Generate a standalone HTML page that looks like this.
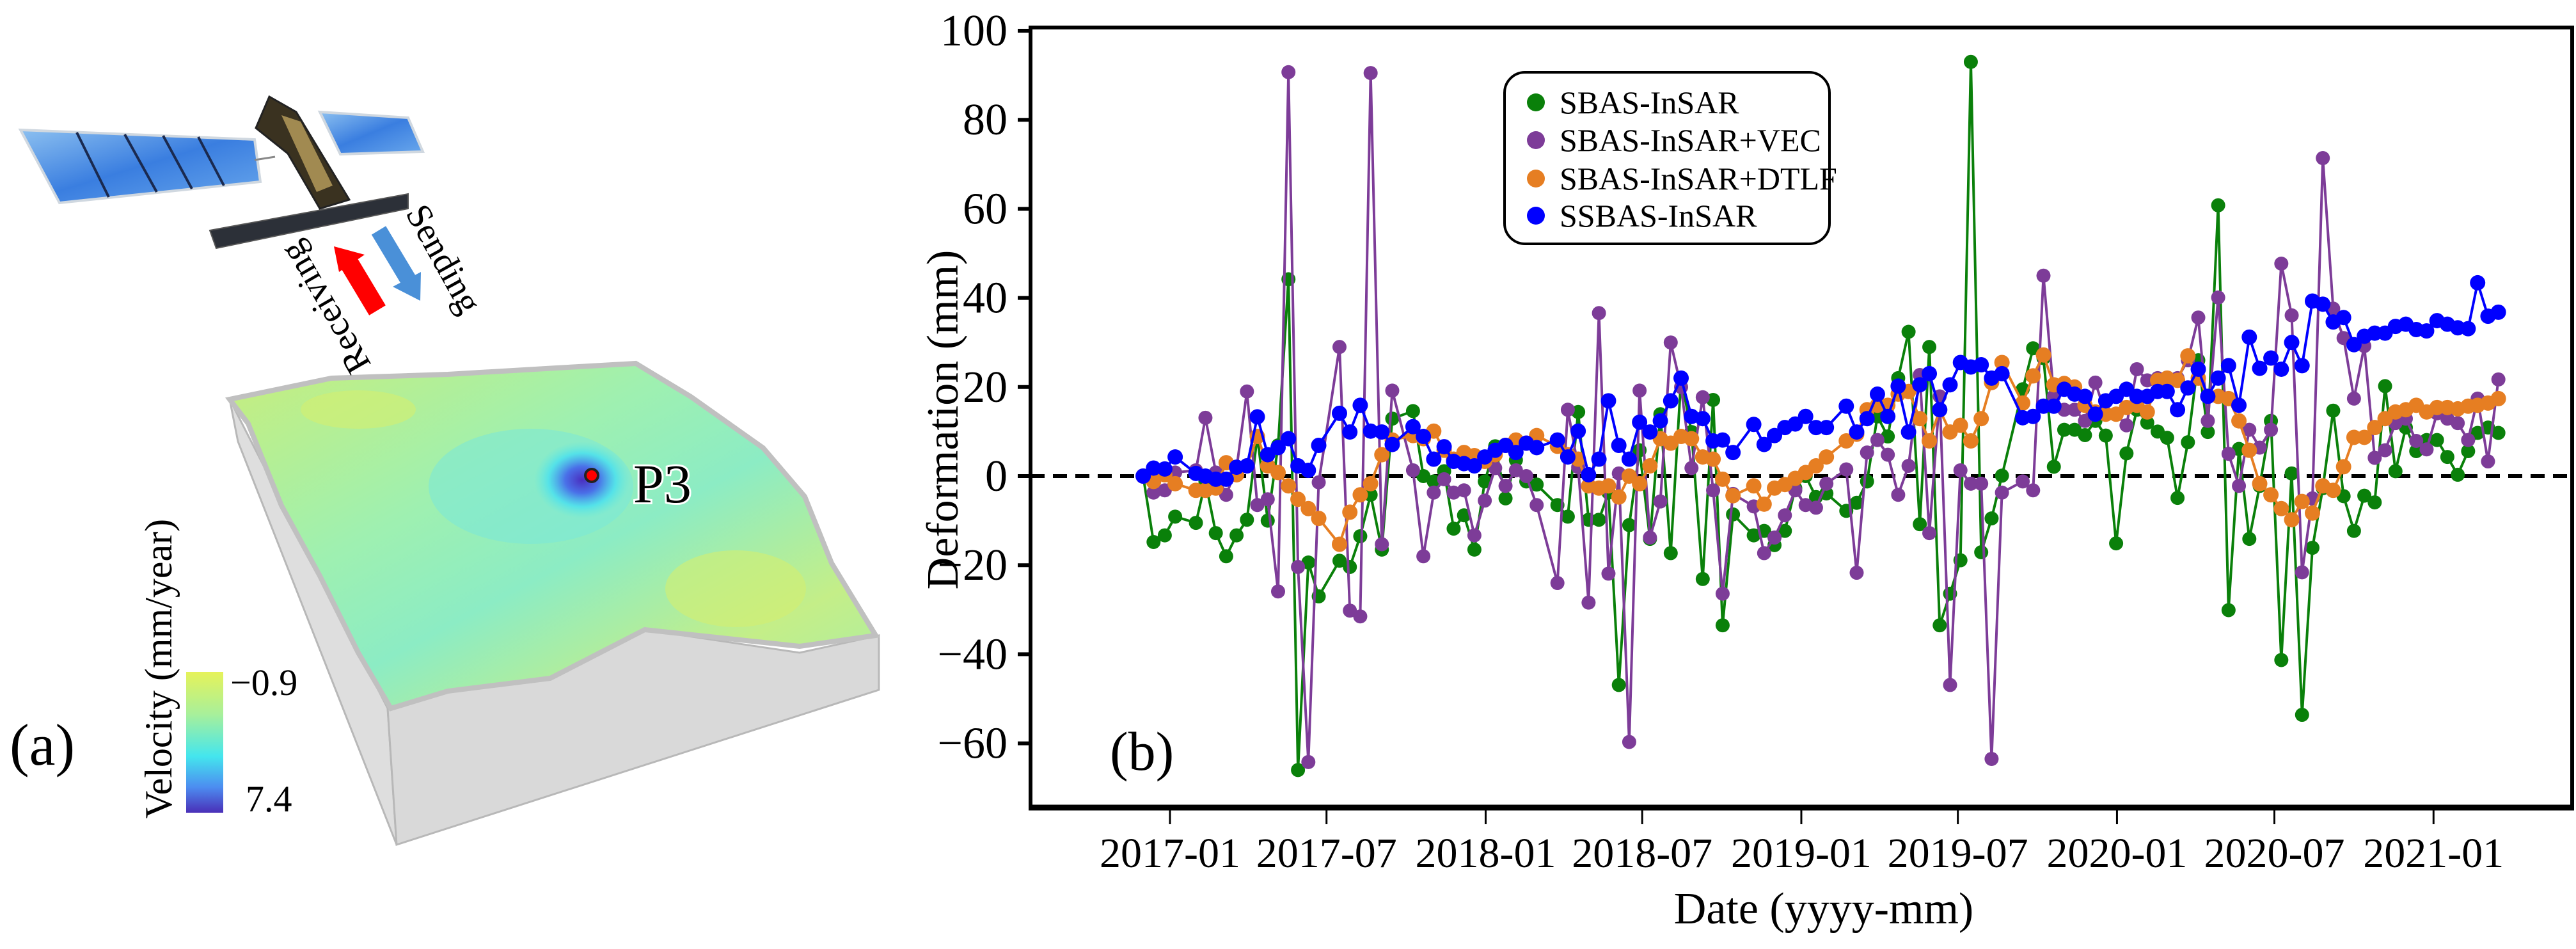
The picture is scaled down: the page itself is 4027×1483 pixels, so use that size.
<!DOCTYPE html>
<html>
<head>
<meta charset="utf-8">
<style>
  html, body { margin:0; padding:0; background:#ffffff; }
  svg { display:block; }
  text { font-family: "Liberation Serif", "DejaVu Serif", serif; }
</style>
</head>
<body>
<svg id="fig" width="4027" height="1483" viewBox="0 0 4027 1483" xmlns="http://www.w3.org/2000/svg">
  <defs>
    <linearGradient id="cbar" x1="0" y1="0" x2="0" y2="1">
      <stop offset="0" stop-color="#e6f25a"/>
      <stop offset="0.3" stop-color="#a8f09a"/>
      <stop offset="0.6" stop-color="#44e6ee"/>
      <stop offset="0.82" stop-color="#4c8cf0"/>
      <stop offset="1" stop-color="#4a2fb8"/>
    </linearGradient>
    <linearGradient id="surf" x1="0" y1="0" x2="1" y2="1">
      <stop offset="0" stop-color="#c8ee7c"/>
      <stop offset="0.35" stop-color="#9ff0b0"/>
      <stop offset="0.55" stop-color="#8cecc4"/>
      <stop offset="0.8" stop-color="#c4ee88"/>
      <stop offset="1" stop-color="#a8eea8"/>
    </linearGradient>
    <radialGradient id="spot" cx="0.5" cy="0.5" r="0.5">
      <stop offset="0" stop-color="#4a2fc0"/>
      <stop offset="0.35" stop-color="#4a70e8"/>
      <stop offset="0.7" stop-color="#48e0f0" stop-opacity="0.8"/>
      <stop offset="1" stop-color="#60e8e0" stop-opacity="0"/>
    </radialGradient>
    <linearGradient id="panel" x1="0" y1="0" x2="1" y2="1">
      <stop offset="0" stop-color="#8cc0f0"/>
      <stop offset="0.5" stop-color="#3a7ee0"/>
      <stop offset="1" stop-color="#6aa8ec"/>
    </linearGradient>
  </defs>

  <!-- ===== Panel (a) ===== -->
  <g>
    <!-- box left side -->
    <polygon points="359,624 372,690 620,1320 606,1107" fill="#dedede" stroke="#b8b8b8" stroke-width="3"/>
    <!-- box front face -->
    <polygon points="606,1107 620,1320 1374,1078 1374,993 1250,1020 1008,984 860,1060 700,1080" fill="#d9d9d9" stroke="#b8b8b8" stroke-width="3"/>
    <!-- surface -->
    <polygon points="359,624 518,591 700,585 870,575 994,568 1080,620 1193,700 1258,776 1300,880 1369,993 1250,1010 1008,984 860,1060 700,1080 611,1107 560,1020 500,900 440,790 388,662" fill="url(#surf)" stroke="#c0c0c0" stroke-width="8"/>
    <ellipse cx="830" cy="760" rx="160" ry="90" fill="#7ae8d8" opacity="0.55"/>
    <ellipse cx="1150" cy="920" rx="110" ry="60" fill="#d4ee70" opacity="0.6"/>
    <ellipse cx="560" cy="640" rx="90" ry="30" fill="#d4ee70" opacity="0.6"/>
    <ellipse cx="910" cy="750" rx="75" ry="60" fill="url(#spot)"/>
    <circle cx="925" cy="743" r="10" fill="#ff0000" stroke="#222" stroke-width="4"/>
    <text x="990" y="785" font-size="86" fill="#000" stroke="#fff" stroke-width="6" paint-order="stroke">P3</text>
  </g>

  <g>
    <polygon points="32,203 398,218 407,284 93,317" fill="url(#panel)" stroke="#d0d8e0" stroke-width="4"/>
    <line x1="120" y1="207" x2="170" y2="308" stroke="#1a2a50" stroke-width="4"/>
    <line x1="195" y1="210" x2="245" y2="300" stroke="#1a2a50" stroke-width="4"/>
    <line x1="255" y1="212" x2="300" y2="295" stroke="#1a2a50" stroke-width="4"/>
    <line x1="310" y1="214" x2="350" y2="290" stroke="#1a2a50" stroke-width="4"/>
    <line x1="398" y1="250" x2="430" y2="245" stroke="#888" stroke-width="3"/>
    <polygon points="500,175 638,184 661,237 532,241" fill="url(#panel)" stroke="#d0d8e0" stroke-width="4"/>
    <polygon points="421,151 463,175 546,312 500,326 450,240 400,200" fill="#3a3220" stroke="#222" stroke-width="3"/>
    <polygon points="440,180 470,190 520,290 495,300" fill="#b49a5a" opacity="0.85"/>
    <polygon points="328,360 638,303 638,326 338,388" fill="#2c3038" stroke="#555" stroke-width="2"/>
  </g>

  <g>
    <line x1="590" y1="485" x2="545" y2="410" stroke="#ff0000" stroke-width="30"/>
    <polygon points="522,385 570,398 530,425" fill="#ff0000" transform="rotate(0)"/>
    <line x1="592" y1="360" x2="640" y2="440" stroke="#4a90d8" stroke-width="26"/>
    <polygon points="657,470 614,448 658,425" fill="#4a90d8"/>
    <text x="0" y="0" font-size="56" text-anchor="middle" transform="translate(513,478) rotate(240)" dominant-baseline="middle">Receiving</text>
    <text x="0" y="0" font-size="56" text-anchor="middle" transform="translate(689,407) rotate(61)" dominant-baseline="middle">Sending</text>
  </g>

  <g>
    <rect x="291" y="1050" width="58" height="220" fill="url(#cbar)"/>
    <text x="360" y="1086" font-size="58">−0.9</text>
    <text x="384" y="1268" font-size="58">7.4</text>
    <text x="0" y="0" font-size="60" text-anchor="middle" transform="translate(268,1045) rotate(-90)">Velocity (mm/year)</text>
  </g>
  <text x="15" y="1195" font-size="92">(a)</text>

  <!-- ===== Panel (b) chart ===== -->
  <g id="chart"></g>
</svg>

<script>
// ---- data (days since 2017-01-01) ----
const dates = [-31,-19,-6,6,30,41,53,65,77,89,101,113,125,137,148,160,172,196,208,220,232,245,257,281,293,305,317,328,340,352,364,376,388,400,412,424,448,460,
472,484,496,507,519,531,543,555,567,579,591,603,616,628,639,651,675,687,699,711,723,735,747,759,782,794,806,818,830,842,854,867,878,890,902,914,926,938,950,962,986,
998,1010,1022,1034,1046,1058,1070,1082,1094,1106,1118,1130,1142,1153,1165,1177,1189,1200,1212,1224,1236,1248,1260,1273,1285,1297,1309,1321,1333,1345,1357,1369,1381,1393,1405,1417,1429,1441,1453,1465,1477,1489,1501,1512,1524,1536];

const sbas = [0,-14.8,-13.3,-9.1,-10.5,-1.2,-12.8,-18,-13.3,-9.8,8.9,-10,6.9,44.2,-66,-19.4,-27,-19,-20.4,-13.5,-4.2,-16.5,12.9,14.6,0,-1.2,1.1,-11.8,-8.8,-16.5,-1.2,6.7,-5,3.6,-1.2,-1.9,-6.5,-9.1,
14.4,-9.8,-9.8,-3.7,-46.9,-11,5.8,-14.1,13.9,-17.3,22,9.9,-23.1,17.1,-33.5,-8.6,-13.3,-12.3,-15.5,-12.3,-2.7,0,-4.7,-3.9,-7.8,-6,-1.2,13.4,8.9,22,32.4,-10.8,29,-33.5,-26.4,-18.9,93,-17.1,-9.5,0.1,19.5,
28.7,26.5,2.1,10.4,10.4,9.2,12.4,9.1,-15.1,5.1,14.9,12,10,8.6,-4.9,7.6,26,9.9,60.8,-30.1,6.1,-14.1,-2.2,12.4,-41.3,0.6,-53.6,-16.1,-2.7,14.7,-4.5,-12.3,-4.4,-5.9,20.2,1.1,10.9,5.6,8.1,8.1,4.3,0.3,5.6,9.7,10.9,9.7];

const sbasVec = [0,-3.7,-3.2,0.8,1.3,13.1,0.8,-4.2,1.8,19,-6.5,-5.2,-25.9,90.7,-20.4,-64.2,-1.4,29,-30.2,-31.5,90.5,-15.3,19.2,1.3,-18,-3.7,-0.7,-3.7,-3.2,-13.3,-5.5,1.8,-2.2,1.3,0,-6.5,-24,14.9,
2,-28.4,36.6,-21.9,0.6,-59.7,19.2,-13.8,-5.7,30,20,1.8,17.7,-3.2,-26.4,-4,-6.8,-17.3,-13.8,-8.8,-3.2,-6.5,-7.1,-1.7,1.5,-21.7,5.3,8.1,4.8,-4.2,2.3,22.7,-12.8,17.9,-46.9,1.3,-1.7,-1.7,-63.5,-3.7,-1.2,
-3.2,45,17.9,14.9,14.9,12.4,21,13.9,13.9,11.4,24,21.5,22,22,22,26,35.6,12.4,40.1,5,-2.2,10.4,6.4,10.4,47.7,36.1,-21.6,-5,71.4,37.6,31,17.4,29.2,4.1,5.8,11.9,12.9,7.9,6,14.1,12.9,11.9,8.1,17.4,3.3,21.7];

const sbasDtlf = [0,-1.2,0.3,-1.7,-3.2,-3.2,-2.7,3,0.3,2.3,8.9,2.3,0.8,-2.2,-5.2,-7.3,-9.5,-15.3,-8.1,-4.2,-1.7,4.8,8.1,9.1,8.4,10.1,5.8,3.8,5.3,4.6,3.3,4.8,6.9,8.1,7.4,9.1,6.7,4.8,
3.8,-2.2,-2.7,-2.2,-4.7,0,-1.7,2.3,8.4,7.4,8.9,8.4,4.3,3.8,-0.7,-4.4,-2.2,-6.3,-2.7,-1.9,-0.5,0.8,2.3,4.3,7.9,9.4,14.9,15.9,15.9,18.4,19,12.9,7.9,14.9,9.9,11.4,7.9,12.9,21,25.5,16.4,
22.5,27.2,20.5,20.8,20,15.9,14.4,13.9,13.9,15.4,15.9,14.4,21.5,22,21.5,27,22,17.9,17.9,17.4,12.4,5.8,-1.7,-4.2,-7.3,-9.8,-5.7,-8.3,-2.2,-3.2,2.1,8.7,8.7,10.9,12.9,14.4,14.9,15.9,14.4,15.4,15.4,15.1,15.7,15.9,16.4,17.4];

const ssbas = [0,1.8,1.6,4.3,0.6,0,-0.7,-0.7,2,2.3,13.3,4.8,6.4,8.4,2.3,1.3,6.9,14.1,9.9,15.9,10.1,9.9,7.1,11.1,8.9,3.8,6.6,3.3,2.8,2.3,4.3,5.8,6.9,5.3,7.4,6.4,8.1,4.3,
10.1,0.3,3.8,16.9,6.9,3.8,12.1,9.9,12.4,16.9,22,13.4,12.9,7.9,8.1,5.3,11.6,7.1,9.1,10.9,11.7,13.4,10.9,10.9,15.7,9.9,12.9,18.4,13.4,20.2,9.9,20.5,23,14.9,20.5,25.5,24.5,25,22,23,13.1,
13.4,15.7,15.7,19.5,18.4,17.9,13.9,16.9,17.9,19.5,17.9,17.9,19,19,14.9,19.8,24,17.9,22,24.8,15.9,31.2,24.2,26.5,24,30,24.8,39.3,38.6,34.6,35.6,29.5,31.4,32.1,32.1,33.6,34.1,32.9,32.6,34.9,34.1,33.3,33.1,43.4,35.9,36.8];

const yTicks = [-60,-40,-20,0,20,40,60,80,100];
const xTickDays = [0,181,365,546,730,911,1095,1277,1461];
const xTickLabels = ["2017-01","2017-07","2018-01","2018-07","2019-01","2019-07","2020-01","2020-07","2021-01"];
const seriesNames = ["SBAS-InSAR","SBAS-InSAR+VEC","SBAS-InSAR+DTLF","SSBAS-InSAR"];

// ---- layout ----
const NS = "http://www.w3.org/2000/svg";
const L = 1611, R = 4021, T = 43, B = 1262;
function xS(d){ return 1829 + d * 1.352; }
function yS(v){ return 744 - v * 6.96; }
const chart = document.getElementById('chart');
function mk(tag, attrs, parent){
  const e = document.createElementNS(NS, tag);
  for (const k in attrs) e.setAttribute(k, attrs[k]);
  (parent || chart).appendChild(e);
  return e;
}

// zero line
const zl = mk('line', {x1:L, x2:R, y1:yS(0), y2:yS(0), stroke:'#000', 'stroke-width':6, 'stroke-dasharray':'22 13'});



// series
const colors = ['#0a800a','#7d3c98','#e67e22','#0000ff'];
const radii = [11,11,12,12];
const allSeries = [sbas, sbasVec, sbasDtlf, ssbas];
const seriesKeys = ['sbas-insar','sbas-insar-vec','sbas-insar-dtlf','ssbas-insar'];
allSeries.forEach((vals, si) => {
  const g = mk('g', {});
  
  
  const pts = vals.map((v, i) => xS(dates[i]).toFixed(1) + ',' + yS(v).toFixed(1)).join(' ');
  const pl = mk('polyline', {points: pts, fill:'none', stroke: colors[si], 'stroke-width': 4, 'stroke-linejoin':'round'}, g);
  
  
  vals.forEach((v, i) => {
    const c = mk('circle', {cx: xS(dates[i]), cy: yS(v), r: radii[si], fill: colors[si]}, g);
    
    
  });
});

// frame
const frame = mk('rect', {x:L, y:T, width:R-L, height:B-T, fill:'none', stroke:'#000', 'stroke-width':6});


const bottomSpine = mk('line', {x1:L-3, x2:R+3, y1:B, y2:B, stroke:'#000', 'stroke-width':9});



// y ticks
yTicks.forEach(v => {
  const t = mk('line', {x1:L-20, x2:L, y1:yS(v), y2:yS(v), stroke:'#000', 'stroke-width':6});
  
  
  const lb = mk('text', {x:1575, y:yS(v)+23, 'font-size':70, 'text-anchor':'end'});
  lb.textContent = v < 0 ? '\u2212' + Math.abs(v) : String(v);
  
  
});
// x ticks
xTickDays.forEach((d, i) => {
  const t = mk('line', {x1:xS(d), x2:xS(d), y1:B, y2:B+26, stroke:'#000', 'stroke-width':3});
  
  
  const lb = mk('text', {x:xS(d), y:1355, 'font-size':66, 'text-anchor':'middle'});
  lb.textContent = xTickLabels[i];
  
  
});

// axis titles
const xt = mk('text', {x:2851, y:1443, 'font-size':70, 'text-anchor':'middle'});
xt.textContent = 'Date (yyyy-mm)';


const yt = mk('text', {x:0, y:0, 'font-size':70, 'text-anchor':'middle', transform:'translate(1497,656) rotate(-90)'});
yt.textContent = 'Deformation (mm)';


const pb = mk('text', {x:1735, y:1203, 'font-size':86});
pb.textContent = '(b)';



// legend
const lg = mk('g', {});


const lbox = mk('rect', {x:2352, y:113, width:508, height:268, rx:32, ry:32, fill:'#fff', stroke:'#000', 'stroke-width':4}, lg);


const rowY = [160, 219, 279, 337];
seriesNames.forEach((nm, i) => {
  const e = mk('g', {}, lg);
  
  
  mk('circle', {cx:2401, cy:rowY[i], r:14, fill:colors[i]}, e);
  const tx = mk('text', {x:2438, y:rowY[i]+17, 'font-size':50}, e);
  tx.textContent = nm;
});
</script>
</body>
</html>
